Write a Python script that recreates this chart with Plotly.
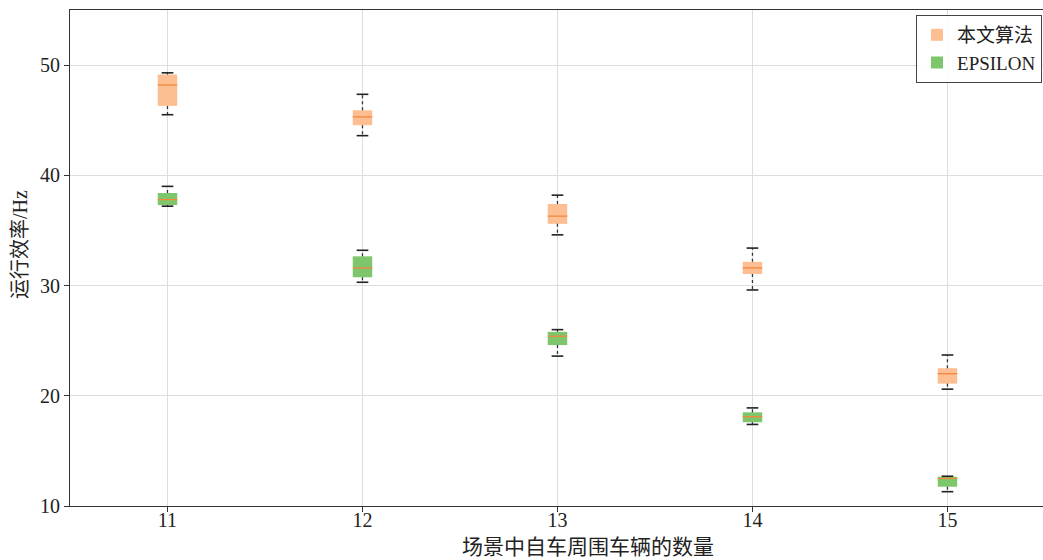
import plotly.graph_objects as go

categories = [11, 12, 13, 14, 15]
series_names = ["本文算法", "EPSILON"]
x_title = "场景中自车周围车辆的数量"
y_title = "运行效率/Hz"

ours_lower = [45.5, 43.6, 34.6, 29.6, 20.6]
ours_q1 = [46.3, 44.55, 35.6, 31.05, 21.1]
ours_median = [48.2, 45.3, 36.3, 31.6, 22.0]
ours_q3 = [49.15, 45.9, 37.4, 32.15, 22.5]
ours_upper = [49.3, 47.35, 38.2, 33.4, 23.7]

eps_lower = [37.2, 30.3, 23.6, 17.4, 11.3]
eps_q1 = [37.3, 30.75, 24.6, 17.6, 11.75]
eps_median = [37.8, 31.6, 25.4, 18.1, 12.5]
eps_q3 = [38.4, 32.65, 25.8, 18.5, 12.65]
eps_upper = [39.0, 33.2, 26.0, 18.9, 12.7]

y_ticks = [10, 20, 30, 40, 50]

FONT = "Liberation Serif, 'Noto Sans CJK SC', serif"
BOX_W = 0.1
CAP_W = 0.05
fills = ["#fdbf92", "#7ec66c"]
median_color = "#f4873e"

fig = go.Figure()

def seg_h(xs, ys, half):
    X, Y = [], []
    for x, y in zip(xs, ys):
        X += [x - half, x + half, None]
        Y += [y, y, None]
    return X, Y

def seg_v(xs, y0s, y1s):
    X, Y = [], []
    for x, a, b in zip(xs, y0s, y1s):
        X += [x, x, None]
        Y += [a, b, None]
    return X, Y

groups = [
    (ours_lower, ours_q1, ours_median, ours_q3, ours_upper),
    (eps_lower, eps_q1, eps_median, eps_q3, eps_upper),
]

for name, fill, (lo, q1, med, q3, up) in zip(series_names, fills, groups):
    fig.add_trace(go.Bar(
        x=categories, base=q1, y=[b - a for a, b in zip(q1, q3)],
        width=BOX_W, marker=dict(color=fill, line=dict(width=0)),
        name=name, showlegend=True, hoverinfo="skip",
    ))
    wx1, wy1 = seg_v(categories, q3, up)
    wx2, wy2 = seg_v(categories, q1, lo)
    fig.add_trace(go.Scatter(x=wx1 + wx2, y=wy1 + wy2, mode="lines",
                             line=dict(color="#333333", width=1.3, dash="dot"),
                             showlegend=False, hoverinfo="skip"))
    cx1, cy1 = seg_h(categories, up, CAP_W / 2 + 0.005)
    cx2, cy2 = seg_h(categories, lo, CAP_W / 2 + 0.005)
    fig.add_trace(go.Scatter(x=cx1 + cx2, y=cy1 + cy2, mode="lines",
                             line=dict(color="#222222", width=1.6),
                             showlegend=False, hoverinfo="skip"))
    mx, my = seg_h(categories, med, BOX_W / 2)
    fig.add_trace(go.Scatter(x=mx, y=my, mode="lines",
                             line=dict(color=median_color, width=1.3),
                             showlegend=False, hoverinfo="skip"))

fig.update_layout(
    width=1043, height=560,
    margin=dict(l=70, r=0, t=10, b=54),
    plot_bgcolor="white", paper_bgcolor="white",
    barmode="overlay",
    font=dict(family=FONT, size=20, color="#222222"),
    legend=dict(x=0.999, xanchor="right", y=0.99, yanchor="top",
                bgcolor="rgba(255,255,255,0.9)", bordercolor="#444444", borderwidth=1,
                font=dict(family=FONT, size=19), tracegroupgap=0,
                itemsizing="constant"),
    xaxis=dict(
        range=[10.5, 15.49], tickvals=categories, ticktext=[str(c) for c in categories],
        showgrid=True, gridcolor="#dddddd", gridwidth=1,
        showline=True, linecolor="#333333", linewidth=1.2, mirror=True,
        ticks="outside", ticklen=5, tickcolor="#333333",
        ticklabelstandoff=-9,
        zeroline=False, automargin=False,
    ),
    yaxis=dict(
        range=[10, 55], tickvals=y_ticks, ticktext=[str(v) for v in y_ticks],
        showgrid=True, gridcolor="#dddddd", gridwidth=1,
        showline=True, linecolor="#333333", linewidth=1.2,
        ticks="outside", ticklen=5, tickcolor="#333333",
        zeroline=False, automargin=False,
    ),
    annotations=[
        dict(text=x_title, xref="paper", yref="paper", x=0.532, y=-0.083,
             xanchor="center", yanchor="middle", showarrow=False,
             font=dict(family=FONT, size=21, color="#222222")),
        dict(text=y_title, xref="paper", yref="paper", x=-0.0514, y=0.528,
             xanchor="center", yanchor="middle", textangle=-90, showarrow=False,
             font=dict(family=FONT, size=20, color="#222222")),
    ],
)

fig.write_html("out.html",
               config={"displayModeBar": False},
               post_script="document.body.style.margin='0';document.body.style.overflow='hidden';")
